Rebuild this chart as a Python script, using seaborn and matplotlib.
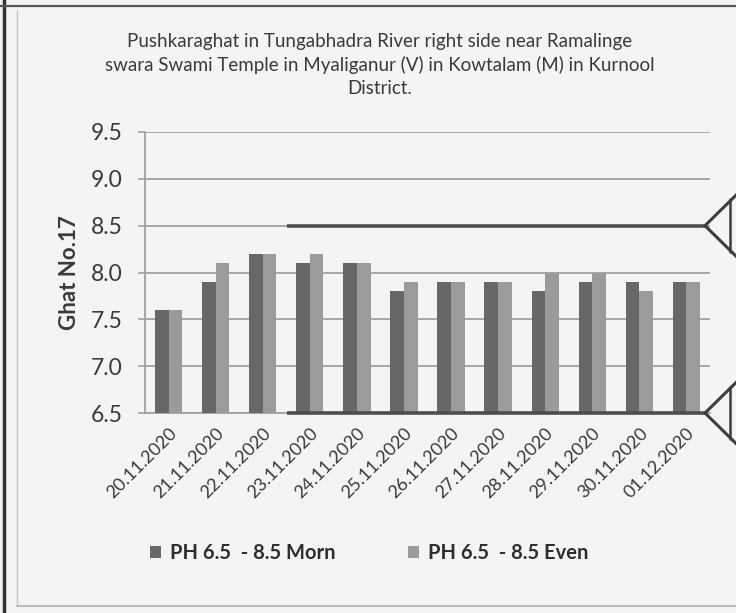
import matplotlib
matplotlib.use("Agg")
import matplotlib.pyplot as plt
import matplotlib.transforms as mtransforms
from matplotlib.lines import Line2D
import pandas as pd
import seaborn as sns

# ---- data -------------------------------------------------------------
dates = ["20.11.2020", "21.11.2020", "22.11.2020", "23.11.2020",
         "24.11.2020", "25.11.2020", "26.11.2020", "27.11.2020",
         "28.11.2020", "29.11.2020", "30.11.2020", "01.12.2020"]
ph_morning = [7.6, 7.9, 8.2, 8.1, 8.1, 7.8, 7.9, 7.9, 7.8, 7.9, 7.9, 7.9]
ph_evening = [7.6, 8.1, 8.2, 8.2, 8.1, 7.9, 7.9, 7.9, 8.0, 8.0, 7.8, 7.9]
series_names = ["PH 6.5  - 8.5 Morn", "PH 6.5  - 8.5 Even"]
ph_limits = [6.5, 8.5]
y_ticks = [6.5, 7.0, 7.5, 8.0, 8.5, 9.0, 9.5]
title_lines = ["Pushkaraghat in Tungabhadra River right side near Ramalinge",
               "swara Swami Temple in Myaliganur (V) in Kowtalam (M) in Kurnool",
               "District."]
y_label = "Ghat No.17"

df = pd.DataFrame({
    "date": dates * 2,
    "ph": ph_morning + ph_evening,
    "series": [series_names[0]] * len(dates) + [series_names[1]] * len(dates),
})

# ---- style ------------------------------------------------------------
sns.set_theme(style="white")
plt.rcParams["font.family"] = ["Lato", "DejaVu Sans"]
bg = "#f4f4f4"
text_col = "#3a3a3a"
grid_col = "#a0a0a0"

fig = plt.figure(figsize=(7.36, 6.13), dpi=100, facecolor=bg)
W, H = 736, 613
ax = fig.add_axes([145 / W, 1 - 413 / H, (710 - 145) / W, (413 - 132) / H])
ax.set_facecolor(bg)

sns.barplot(data=df, x="date", y="ph", hue="series", order=dates,
            hue_order=series_names, palette=["#676767", "#9b9b9b"],
            width=0.58, gap=0, saturation=1, ax=ax, legend=True,
            linewidth=0, zorder=3)

ax.set_ylim(y_ticks[0], y_ticks[-1])
ax.set_xlim(-0.5, len(dates) - 0.5)
ax.set_yticks(y_ticks)
ax.set_yticklabels([f"{v:.1f}" for v in y_ticks], fontsize=16.5, color=text_col)
ax.yaxis.grid(True, color=grid_col, lw=1.3, zorder=0)
ax.set_axisbelow(True)

ax.set_xticks(range(len(dates)))
ax.set_xticklabels(dates, rotation=45, ha="right", rotation_mode="anchor",
                   fontsize=13, color=text_col)
ax.tick_params(axis="x", which="major", length=0, pad=9)
ax.set_xticks([i + 0.5 for i in range(-1, len(dates))], minor=True)
ax.tick_params(axis="x", which="minor", length=5, color=grid_col, width=1.2,
               direction="out")
ax.tick_params(axis="y", length=5, color=grid_col, width=1.2, pad=11,
               direction="out", left=True)

ax.set_xlabel("")
ax.set_ylabel(y_label, fontsize=16, fontweight="bold", color=text_col,
              labelpad=8)

for side in ("top", "right"):
    ax.spines[side].set_visible(False)
for side in ("left", "bottom"):
    ax.spines[side].set_color(grid_col)
    ax.spines[side].set_linewidth(1.3)

# pH permissible limits drawn as thick rules
ax.hlines(ph_limits, 2.52, 11.39, color="#4d4d4d", lw=2.6, zorder=4,
          clip_on=False)

# arrow heads marking the limits at the right edge
blend = mtransforms.blended_transform_factory(fig.transFigure, ax.transData)
x_tip, x_back, x_out = 705 / W, 730 / W, 745 / W
dy = 0.42
for lim in ph_limits:
    fig.add_artist(Line2D([x_out, x_tip, x_out], [lim + dy, lim, lim - dy],
                          transform=blend, color="#3d3d3d", lw=2.2,
                          clip_on=False))
    fig.add_artist(Line2D([x_back, x_back], [lim + 0.28, lim - 0.28],
                          transform=blend, color="#3d3d3d", lw=1.8,
                          clip_on=False))

# title
fig.text(380 / W, 1 - 65 / H, "\n".join(title_lines), ha="center",
         va="center", fontsize=13.5, color=text_col, linespacing=1.4)

# legend below the dates
handles, labels = ax.get_legend_handles_labels()
ax.get_legend().remove()
fig.legend(handles, labels, loc="center", bbox_to_anchor=(369 / W, 1 - 553 / H),
           ncol=2, frameon=False, handlelength=0.55, handleheight=0.55,
           handletextpad=0.45, columnspacing=3.6,
           prop={"size": 14.5, "weight": "bold"}, labelcolor="#2e2e2e")

# page frame
fig.add_artist(Line2D([4 / W, 4 / W], [0, 1], transform=fig.transFigure,
                      color="#333333", lw=2.5))
fig.add_artist(Line2D([0, 1], [1 - 6 / H, 1 - 6 / H], transform=fig.transFigure,
                      color="#555555", lw=1.6))
fig.add_artist(Line2D([17 / W, 17 / W], [1 - 606 / H, 1 - 10 / H],
                      transform=fig.transFigure, color="#c4c4c4", lw=1.0))
fig.add_artist(Line2D([17 / W, 1], [1 - 606 / H, 1 - 606 / H],
                      transform=fig.transFigure, color="#b0b0b0", lw=1.2))

fig.savefig("out.png", dpi=100, facecolor=bg)
